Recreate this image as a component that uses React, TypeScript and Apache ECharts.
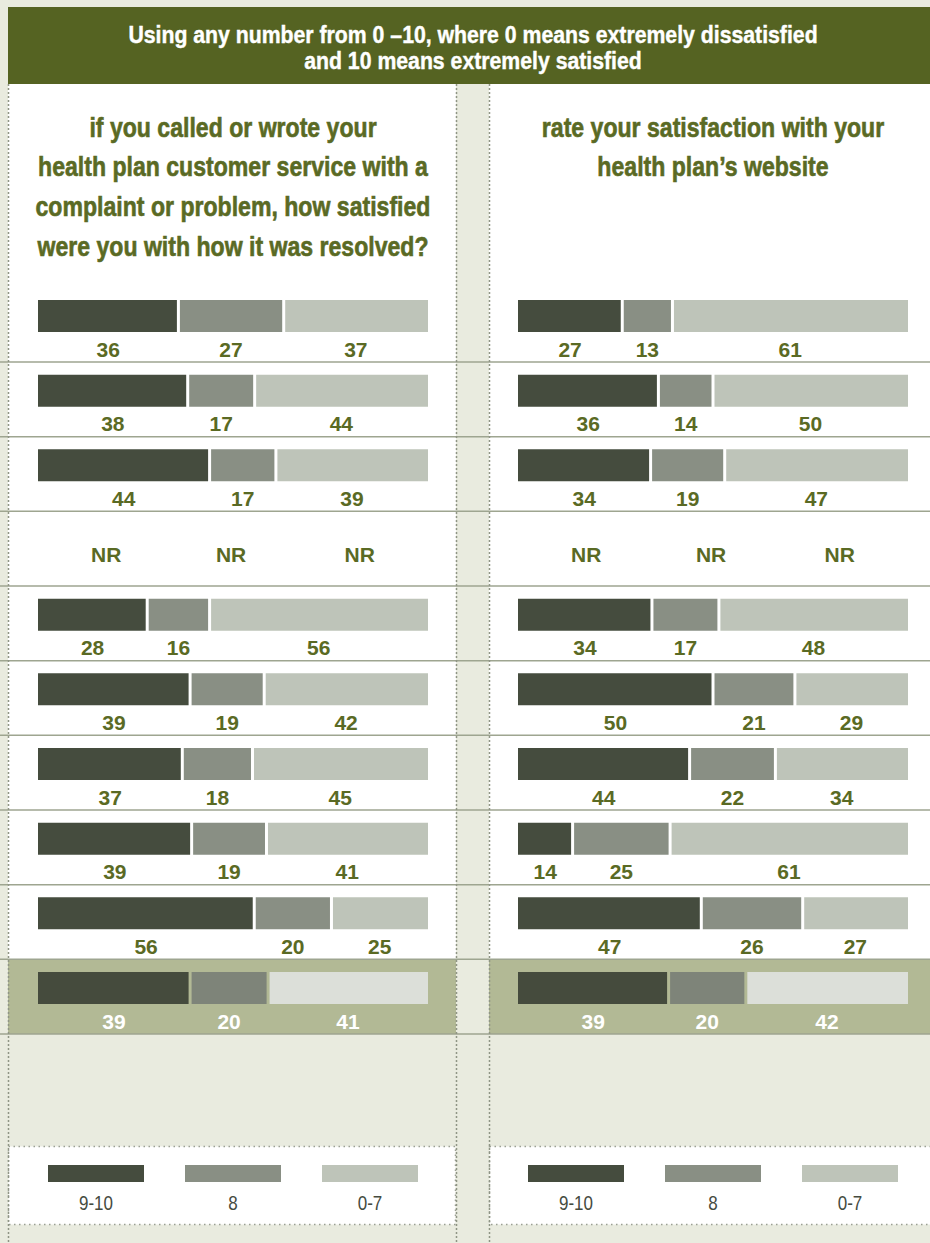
import React, { useEffect, useRef } from "react";
import * as echarts from "echarts";

// ---------- data ----------
const HEADER_LINES = [
  "Using any number from 0 –10, where 0 means extremely dissatisfied",
  "and 10 means extremely satisfied",
];
const LEFT_QUESTION = [
  "if you called or wrote your",
  "health plan customer service with a",
  "complaint or problem, how satisfied",
  "were you with how it was resolved?",
];
const RIGHT_QUESTION = ["rate your satisfaction with your", "health plan’s website"];
const SEGMENTS = ["9-10", "8", "0-7"];
const ROW_INDEX = [0, 1, 2, 3, 4, 5, 6, 7, 8, 9];
const LEFT_9_10 = [36, 38, 44, null, 28, 39, 37, 39, 56, 39];
const LEFT_8 = [27, 17, 17, null, 16, 19, 18, 19, 20, 20];
const LEFT_0_7 = [37, 44, 39, null, 56, 42, 45, 41, 25, 41];
const RIGHT_9_10 = [27, 36, 34, null, 34, 50, 44, 14, 47, 39];
const RIGHT_8 = [13, 14, 19, null, 17, 21, 22, 25, 26, 20];
const RIGHT_0_7 = [61, 50, 47, null, 48, 29, 34, 61, 27, 42];
const NR_LABEL = "NR";
const HIGHLIGHT_ROW = 9;

// ---------- style / layout ----------
const W = 930;
const H = 1243;
const BG = "#e9ebdf";
const HEADER_BG = "#556322";
const HILITE_BG = "#b2b995";
const SEP = "#9ea590";
const DOT = "#8f9585";
const OLIVE = "#5a6a24";
const LEGEND_TEXT = "#454b3f";
const BAR_COLORS = ["#454c3e", "#898f84", "#bec4b9"];
const HI_BAR_COLORS = ["#454b3d", "#7e8479", "#dcdfd9"];
const NR_POS = [17.5, 49.5, 82.5];
const SANS = "'Liberation Sans', Arial, Helvetica, sans-serif";
const NUM_FONT = `bold 21px ${SANS}`;
const HEADER_FONT = `bold 23px ${SANS}`;
const Q_FONT = `bold 27px ${SANS}`;
const LEG_FONT = `21px ${SANS}`;

const PANELS = [
  { x0: 8, x1: 456, barLeft: 38, q: LEFT_QUESTION, vals: [LEFT_9_10, LEFT_8, LEFT_0_7] },
  { x0: 489, x1: 930, barLeft: 518, q: RIGHT_QUESTION, vals: [RIGHT_9_10, RIGHT_8, RIGHT_0_7] },
];
const BAR_W = 390;
const ROW0_CENTER = 316;
const ROW_SPAN = 672; // center of row 0 to center of row 9
const PITCH = ROW_SPAN / 9;
const PANEL_TOP = 84;
const PANEL_BOTTOM = 1034;

function measure(text: string, font: string) {
  const c = document.createElement("canvas").getContext("2d");
  if (!c) return text.length * 10;
  c.font = font;
  return c.measureText(text).width;
}

function txt(text: string, x: number, y: number, font: string, fill: string, scaleX = 1, heavy = 0) {
  return {
    type: "text",
    silent: true,
    x,
    y,
    scaleX,
    style: {
      text,
      x: 0,
      y: 0,
      font,
      fill,
      stroke: heavy ? fill : undefined,
      lineWidth: heavy,
      align: "center",
      verticalAlign: "middle",
      textAlign: "center",
      textVerticalAlign: "middle",
    },
  };
}

function ctxt(text: string, x: number, y: number, font: string, fill: string) {
  return {
    type: "text",
    style: { text, x, y, font, fill, align: "center", verticalAlign: "middle", textAlign: "center", textVerticalAlign: "middle" },
  };
}

function makeRender(vals: (number | null)[][]) {
  return (params: any, api: any) => {
    const i = params.dataIndex;
    const row = api.value(1);
    const hi = i === HIGHLIGHT_ROW;
    const labelFill = hi ? "#ffffff" : OLIVE;
    const colors = hi ? HI_BAR_COLORS : BAR_COLORS;
    const v = vals.map((a) => a[i]);
    const children: any[] = [];
    if (v[0] == null) {
      NR_POS.forEach((p) => {
        const [x, y] = api.coord([p, row]);
        children.push(ctxt(NR_LABEL, x, y + 14, NUM_FONT, labelFill));
      });
      return { type: "group", children };
    }
    const nums = v as number[];
    const sum = nums.reduce((s, n) => s + n, 0);
    let acc = 0;
    nums.forEach((n, k) => {
      const s = (acc / sum) * 100;
      const e = ((acc + n) / sum) * 100;
      acc += n;
      const [xa, yc] = api.coord([s, row]);
      const [xb] = api.coord([e, row]);
      const gl = k > 0 ? 1.5 : 0;
      const gr = k < 2 ? 1.5 : 0;
      children.push({
        type: "rect",
        shape: { x: xa + gl, y: yc - 16, width: xb - xa - gl - gr, height: 32 },
        style: { fill: colors[k] },
      });
      children.push(ctxt(String(n), (xa + xb) / 2, yc + 33, NUM_FONT, labelFill));
    });
    return { type: "group", children };
  };
}

export default function App() {
  const ref = useRef<HTMLDivElement>(null);
  useEffect(() => {
    if (!ref.current) return;
    const chart = echarts.init(ref.current, undefined, { renderer: "svg" });
    const headerScale = Math.min(1, 690 / measure(HEADER_LINES[0], HEADER_FONT));
    const qScale = Math.min(1, 390 / measure(LEFT_QUESTION[1], Q_FONT));
    const legScale = Math.min(1, 34 / measure(SEGMENTS[0], LEG_FONT));

    const g: any[] = [];
    g.push({ type: "rect", shape: { x: 0, y: 0, width: W, height: H }, style: { fill: BG }, silent: true });
    g.push({ type: "rect", shape: { x: 8, y: 7, width: W - 8, height: 77 }, style: { fill: HEADER_BG }, silent: true });
    g.push(txt(HEADER_LINES[0], 473, 35, HEADER_FONT, "#ffffff", headerScale, 0.4));
    g.push(txt(HEADER_LINES[1], 473, 61, HEADER_FONT, "#ffffff", headerScale, 0.4));
    const sepYs = ROW_INDEX.map((r) => ROW0_CENTER + 46 + r * PITCH);
    PANELS.forEach((p) => {
      g.push({ type: "rect", shape: { x: p.x0, y: PANEL_TOP, width: p.x1 - p.x0, height: PANEL_BOTTOM - PANEL_TOP }, style: { fill: "#ffffff" }, silent: true });
      const hy = sepYs[HIGHLIGHT_ROW - 1];
      g.push({ type: "rect", shape: { x: p.x0, y: hy, width: p.x1 - p.x0, height: PANEL_BOTTOM - hy }, style: { fill: HILITE_BG }, silent: true });
      const cx = p.barLeft + BAR_W / 2;
      p.q.forEach((line, k) => {
        g.push(txt(line, cx, 127 + k * 39.7, Q_FONT, OLIVE, qScale, 0.6));
      });
      g.push({
        type: "rect",
        shape: { x: p.x0 + 0.5, y: 1146.5, width: p.x1 - p.x0 + (p.x1 >= W ? 4 : -1), height: 78 },
        style: { fill: "#ffffff", stroke: "#9a9f93", lineWidth: 1.5, lineDash: [1.5, 3.5] },
        silent: true,
      });
      SEGMENTS.forEach((s, k) => {
        const sx = p.barLeft + 10 + k * 137;
        g.push({ type: "rect", shape: { x: sx, y: 1165, width: 96, height: 17 }, style: { fill: BAR_COLORS[k] }, silent: true });
        g.push(txt(s, sx + 48, 1203, LEG_FONT, LEGEND_TEXT, legScale));
      });
    });
    sepYs.forEach((y) => {
      g.push({ type: "line", shape: { x1: 0, y1: y, x2: W, y2: y }, style: { stroke: SEP, lineWidth: 1.5 }, silent: true });
    });
    [8.5, 456.5, 489.5].forEach((x) => {
      g.push({ type: "line", shape: { x1: x, y1: PANEL_TOP, x2: x, y2: H }, style: { stroke: DOT, lineWidth: 1.5, lineDash: [2, 2] }, silent: true });
    });

    const grids = PANELS.map((p) => ({ left: p.barLeft, width: BAR_W, top: ROW0_CENTER, height: ROW_SPAN }));
    const xAxes = PANELS.map((_, k) => ({ type: "value", gridIndex: k, min: 0, max: 100, show: false }));
    const yAxes = PANELS.map((_, k) => ({ type: "value", gridIndex: k, min: 0, max: 9, inverse: true, show: false }));
    const series = PANELS.map((p, k) => ({
      type: "custom",
      xAxisIndex: k,
      yAxisIndex: k,
      renderItem: makeRender(p.vals),
      data: ROW_INDEX.map((r) => [0, r]),
      silent: true,
    }));
    chart.setOption({
      animation: false,
      graphic: { elements: g },
      grid: grids,
      xAxis: xAxes,
      yAxis: yAxes,
      series,
    });
    return () => chart.dispose();
  }, []);
  return <div ref={ref} style={{ position: "absolute", left: 0, top: 0, width: W, height: H }} />;
}
